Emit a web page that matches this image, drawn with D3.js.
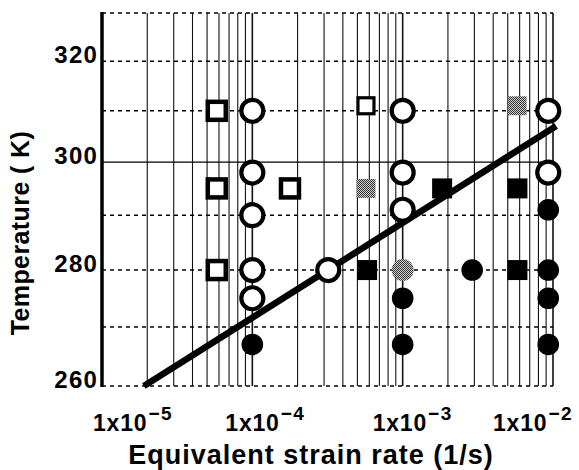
<!DOCTYPE html>
<html lang="en">
<head>
<meta charset="UTF-8" />
<title>Temperature vs equivalent strain rate</title>
<style>
  body {
    margin: 0;
    background: #fff;
  }
  svg text {
    font-family: "Liberation Sans", Arial, sans-serif;
    font-weight: bold;
    fill: #000;
  }
</style>
</head>
<body>

<svg id="chart" width="579" height="470"></svg>

<script src="https://d3js.org/d3.v7.min.js"></script>
<script>
// data: strain rate (1/s) and temperature (K)
const openSquareRate = [5.8e-5, 5.8e-5, 5.8e-5, 1.78e-4];
const openSquareTemp = [310, 295, 280, 295];

const smallSquareRate = [5.7e-4];
const smallSquareTemp = [311];

const greySquareRate = [5.7e-4, 5.77e-3];
const greySquareTemp = [295, 311];

const filledSquareRate = [5.8e-4, 1.83e-3, 5.8e-3, 5.8e-3];
const filledSquareTemp = [280, 295, 295, 280];

const openCircleRate = [1e-4, 1e-4, 1e-4, 1e-4, 1e-4, 3.2e-4, 1e-3, 1e-3, 1e-3, 9.3e-3, 9.3e-3];
const openCircleTemp = [310, 298, 290, 280, 275, 280, 310, 298, 291, 310, 298];

const greyCircleRate = [1e-3];
const greyCircleTemp = [280];

const filledCircleRate = [1e-4, 1e-3, 1e-3, 2.9e-3, 9.3e-3, 9.3e-3, 9.3e-3, 9.3e-3];
const filledCircleTemp = [267, 275, 267, 280, 291, 280, 275, 267];

// boundary line
const boundaryRate = [1.9e-5, 1.05e-2];
const boundaryTemp = [260, 307];

// axes
const xTickValues = [1e-5, 1e-4, 1e-3, 1e-2];
const xTickExponents = ["\u22125", "\u22124", "\u22123", "\u22122"];
const xLabelShift = [-9, -27, -30, -60]; // labels in the original are placed by hand
const yTickValues = [260, 280, 300, 320];
const yGridValues = [260, 270, 280, 290, 300, 310, 320, 330];

const svg = d3.select("#chart");

const x = d3.scaleLog().domain([1e-5, 1e-2]).range([102, 553]);
const y = d3.scaleLog().domain([260, 330]).range([386, 13]);

// grey stipple used by the grey markers
const pat = svg.append("defs")
  .append("pattern")
  .attr("id", "stipple")
  .attr("width", 2)
  .attr("height", 2)
  .attr("patternUnits", "userSpaceOnUse");
pat.append("rect").attr("width", 2).attr("height", 2).attr("fill", "#cfcfcf");
pat.append("rect").attr("width", 1).attr("height", 1).attr("fill", "#333");
pat.append("rect").attr("x", 1).attr("y", 1).attr("width", 1).attr("height", 1).attr("fill", "#333");

// vertical log grid
const vLines = [];
for (let d = -5; d < -2; d++) {
  for (let m = 1; m < 10; m++) vLines.push(m * Math.pow(10, d));
}
vLines.push(1e-2);

svg.append("g")
  .selectAll("line")
  .data(vLines)
  .join("line")
  .attr("x1", (d) => x(d))
  .attr("x2", (d) => x(d))
  .attr("y1", y(330))
  .attr("y2", y(260))
  .attr("stroke", "#111")
  .attr("stroke-width", (d) => (Math.abs(Math.log10(d) % 1) < 1e-9 ? 1.6 : 1.1));

// horizontal grid, dashed except 300 K
svg.append("g")
  .selectAll("line")
  .data(yGridValues)
  .join("line")
  .attr("x1", x(1e-5))
  .attr("x2", x(1e-2))
  .attr("y1", (d) => y(d))
  .attr("y2", (d) => y(d))
  .attr("stroke", "#000")
  .attr("stroke-width", (d) => (d === 300 ? 1.2 : 1.5))
  .attr("stroke-dasharray", (d) => (d === 300 ? null : "4 4"));

// left axis
svg.append("line")
  .attr("x1", x(1e-5))
  .attr("x2", x(1e-5))
  .attr("y1", y(330) - 1)
  .attr("y2", y(260) + 1)
  .attr("stroke", "#000")
  .attr("stroke-width", 3.5);

// y tick labels
svg.append("g")
  .selectAll("text")
  .data(yTickValues)
  .join("text")
  .attr("x", 98)
  .attr("y", (d) => y(d) + 2)
  .attr("text-anchor", "end")
  .style("font-size", "24px")
  .style("letter-spacing", "1.2px")
  .text((d) => d);

// x tick labels 1x10^n
xTickValues.forEach((v, i) => {
  const t = svg.append("text")
    .attr("x", x(v) + xLabelShift[i])
    .attr("y", 431)
    .style("font-size", "23px")
    .style("letter-spacing", "0.8px");
  t.append("tspan").text("1x10");
  t.append("tspan")
    .attr("dy", -11)
    .attr("dx", 1)
    .style("font-size", "19px")
    .style("letter-spacing", "1.5px")
    .text(xTickExponents[i]);
});

// axis titles
svg.append("text")
  .attr("x", 311)
  .attr("y", 464)
  .attr("text-anchor", "middle")
  .style("font-size", "27px")
  .style("letter-spacing", "1px")
  .text("Equivalent strain rate (1/s)");

svg.append("text")
  .attr("transform", "translate(29,233) rotate(-90)")
  .attr("text-anchor", "middle")
  .style("font-size", "25px")
  .style("letter-spacing", "0.4px")
  .text("Temperature ( K)");

// boundary line (markers sit on top of it)
svg.append("path")
  .datum(d3.zip(boundaryRate, boundaryTemp))
  .attr("d", d3.line().x((d) => x(d[0])).y((d) => y(d[1])))
  .attr("stroke", "#000")
  .attr("stroke-width", 6.5)
  .attr("fill", "none");

function squares(rates, temps, size, fill, stroke, sw) {
  svg.append("g")
    .selectAll("rect")
    .data(d3.zip(rates, temps))
    .join("rect")
    .attr("x", (d) => x(d[0]) - size / 2)
    .attr("y", (d) => y(d[1]) - size / 2)
    .attr("width", size)
    .attr("height", size)
    .attr("fill", fill)
    .attr("stroke", stroke)
    .attr("stroke-width", sw);
}

function circles(rates, temps, r, fill, stroke, sw) {
  svg.append("g")
    .selectAll("circle")
    .data(d3.zip(rates, temps))
    .join("circle")
    .attr("cx", (d) => x(d[0]))
    .attr("cy", (d) => y(d[1]))
    .attr("r", r)
    .attr("fill", fill)
    .attr("stroke", stroke)
    .attr("stroke-width", sw);
}

squares(openSquareRate, openSquareTemp, 18, "#fff", "#000", 4.5);
squares(smallSquareRate, smallSquareTemp, 16, "#fff", "#000", 3.2);
squares(greySquareRate, greySquareTemp, 19, "url(#stipple)", "none", 0);
squares(filledSquareRate, filledSquareTemp, 20, "#000", "none", 0);
circles(openCircleRate, openCircleTemp, 11, "#fff", "#000", 4.2);
circles(greyCircleRate, greyCircleTemp, 11, "url(#stipple)", "none", 0);
circles(filledCircleRate, filledCircleTemp, 10.8, "#000", "none", 0);
</script>
</body>
</html>
